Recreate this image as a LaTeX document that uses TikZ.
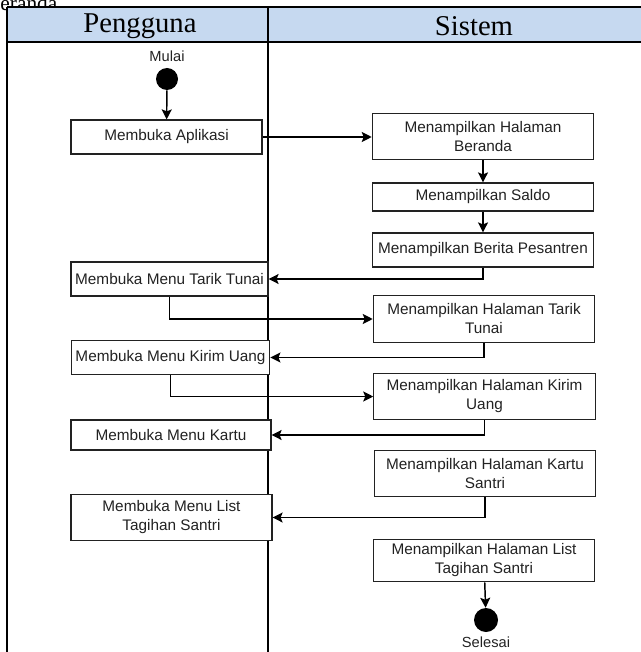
\documentclass[tikz,border=0pt]{standalone}
\usepackage{fontspec}
\setmainfont{Liberation Serif}
\newfontfamily\boxfont{Liberation Sans}
\usepackage{tikz}
\usetikzlibrary{arrows.meta, positioning}
\definecolor{lanehead}{HTML}{C6D9F0}
\definecolor{ink}{HTML}{222222}

\begin{document}
\begin{tikzpicture}[
  x=0.75pt, y=-0.75pt,
  lane/.style={line width=1.7pt, draw=black},
  lanetitle/.style={font=\fontsize{21.5}{24}\selectfont, text=black},
  lbox/.style={draw=ink, line width=0.9pt, fill=white, inner sep=0pt,
              minimum width=149pt, minimum height=25.5pt,
              font=\boxfont\fontsize{11.5}{14.25}\selectfont, text=ink, align=center},
  rbox/.style={lbox, minimum width=166pt, minimum height=35pt},
  dot/.style={circle, fill=black, inner sep=0pt, minimum size=16.5pt},
  tag/.style={font=\boxfont\fontsize{11}{13}\selectfont, text=ink},
  arr/.style={-{Stealth[length=7.5pt, width=7.5pt, inset=1.5pt]}, line width=1.1pt, color=black}
]
  \clip (0,0) rectangle (641,652);

  % caption cut off at the top
  \node[anchor=base west, inner sep=0pt, font=\fontsize{16}{18}\selectfont] (caption) at (-14,11) {Beranda};

  % swimlanes
  \fill[lanehead] (7,7) rectangle (680,42);
  \draw[lane] (7,7) -- (680,7);
  \draw[lane] (7,42) -- (680,42);
  \draw[lane] (7,7) -- (7,680);
  \draw[lane] (268,7) -- (268,680);
  \node[lanetitle] (user) at (140,26) {Pengguna};
  \node[lanetitle] (system) at (474,26) {Sistem};

  % Pengguna
  \node[tag] (mulai) at (167,56) {Mulai};
  \node[dot] (start) at (167,79) {};
  \node[lbox, minimum width=143.25pt] (aplikasi) at (166.5,137) {Membuka Aplikasi};
  \node[lbox, minimum width=147.75pt] (tarik) at (169.5,279) {Membuka Menu Tarik Tunai};
  \node[lbox] (kirim) at (170.5,357.5) {Membuka Menu Kirim Uang};
  \node[lbox, minimum width=150pt, minimum height=22.5pt] (kartu) at (171,435) {Membuka Menu Kartu};
  \node[lbox, minimum width=150.75pt, minimum height=34pt] (list) at (171.5,517.5) {Membuka Menu List\\Tagihan Santri};

  % Sistem
  \node[rbox] (beranda) at (483,136.5) {Menampilkan Halaman\\Beranda};
  \node[rbox, minimum height=21pt] (saldo) at (483,197) {Menampilkan Saldo};
  \node[rbox, minimum height=25.5pt] (berita) at (483,250) {Menampilkan Berita Pesantren};
  \node[rbox] (haltarik) at (484,319) {Menampilkan Halaman Tarik\\Tunai};
  \node[rbox] (halkirim) at (484.5,396.5) {Menampilkan Halaman Kirim\\Uang};
  \node[rbox] (halkartu) at (485,473.5) {Menampilkan Halaman Kartu\\Santri};
  \node[rbox, minimum height=32pt] (hallist) at (484,560.5) {Menampilkan Halaman List\\Tagihan Santri};
  \node[dot, minimum size=18pt] (stop) at (486,620) {};
  \node[tag] (selesai) at (486,642) {Selesai};

  \draw[arr] (start) -- (aplikasi);
  \draw[arr] (aplikasi.east) -- (aplikasi.east -| beranda.west);
  \draw[arr] (beranda) -- (saldo);
  \draw[arr] (saldo) -- (berita);
  \draw[arr] (berita.south) |- (tarik.east);
  \draw[arr] (tarik.south) |- (haltarik.west);
  \draw[arr] (haltarik.south) |- (kirim.east);
  \draw[arr] (kirim.south) |- (halkirim.west);
  \draw[arr] (halkirim.south) |- (kartu.east);
  \draw[arr] (halkartu.south) |- (list.east);
  \draw[arr] (hallist) -- (stop);
\end{tikzpicture}
\end{document}
